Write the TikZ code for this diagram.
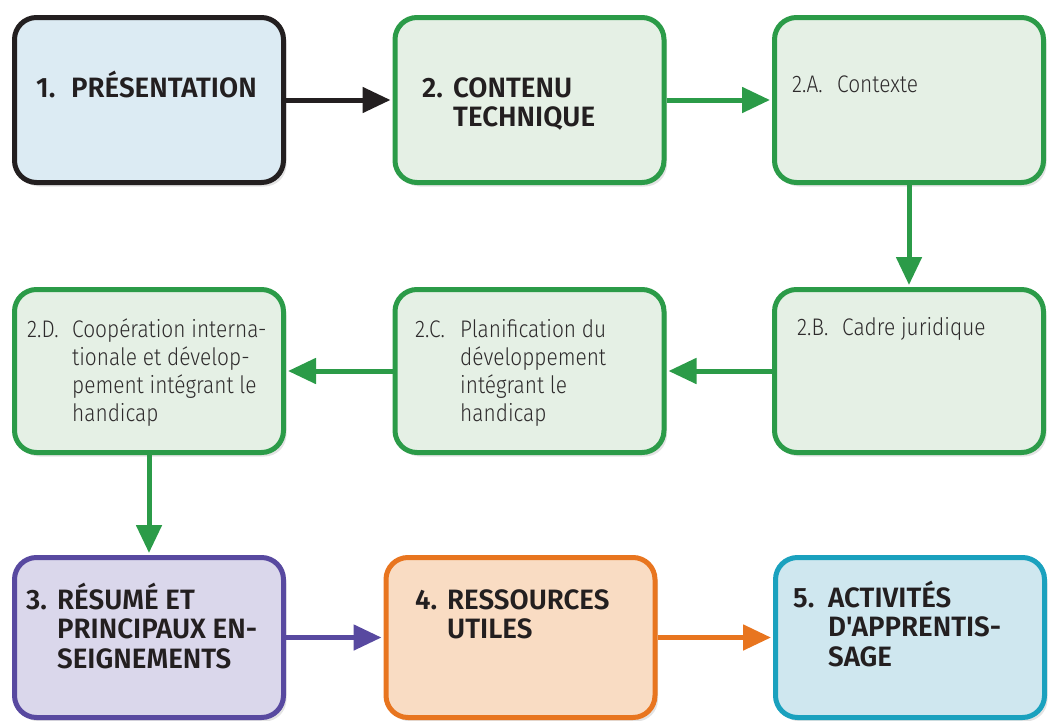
\documentclass[tikz,border=0pt]{standalone}
\usepackage{fontspec}
\usetikzlibrary{arrows.meta,shadows}
\IfFontExistsTF{Fira Sans Light}{\newfontfamily\lightfont{Fira Sans Light}[FakeStretch=0.87]}{\newfontfamily\lightfont{Fira Sans}[FakeStretch=0.87]}
\IfFontExistsTF{Fira Sans SemiBold}{\newfontfamily\headfont{Fira Sans SemiBold}[FakeStretch=0.99]}{\newfontfamily\headfont{Fira Sans Bold}[FakeStretch=0.97]}
\definecolor{cblack}{HTML}{231F20}
\definecolor{fblue}{HTML}{DCEBF3}
\definecolor{cgreen}{HTML}{2B9B48}
\definecolor{fgreen}{HTML}{E5F0E5}
\definecolor{cpurple}{HTML}{5849A0}
\definecolor{fpurple}{HTML}{DAD7EB}
\definecolor{corange}{HTML}{E8751F}
\definecolor{forange}{HTML}{F9DCC3}
\definecolor{cteal}{HTML}{1AA1BE}
\definecolor{fteal}{HTML}{CFE7EF}
\definecolor{txt}{HTML}{231F20}
\definecolor{txtl}{HTML}{2E2B2C}
\begin{document}
\begin{tikzpicture}[x=1pt,y=-1pt,
  box/.style={draw, rounded corners=22pt, line width=5pt, inner sep=0pt,
    minimum width=269pt,
    drop shadow={shadow xshift=3pt, shadow yshift=-4pt, opacity=0.22}},
  row1/.style={minimum height=165pt},
  row2/.style={minimum height=163pt},
  row3/.style={minimum height=160pt},
  bk/.style={box, row1, draw=cblack, fill=fblue},
  gr/.style={box, draw=cgreen, fill=fgreen},
  pu/.style={box, row3, draw=cpurple, fill=fpurple},
  og/.style={box, row3, draw=corange, fill=forange},
  tl/.style={box, row3, draw=cteal, fill=fteal},
  hd/.style={font={\headfont\fontsize{28}{29.5}\selectfont}, text=txt, inner sep=0pt, anchor=base west},
  lt/.style={font={\lightfont\fontsize{24}{28}\selectfont}, text=txtl, inner sep=0pt, anchor=base west},
  conn/.style={line width=5pt, -{Triangle[length=28pt,width=25pt]}, shorten >=2pt},
]
\useasboundingbox (0,0) rectangle (1049,720);
% boxes
\node[bk] (b1) at (149,100) {};
\node[gr,row1] (b2) at (529.5,100) {};
\node[gr,row1] (b2a) at (909,100) {};
\node[gr,row2] (b2d) at (149,371) {};
\node[gr,row2] (b2c) at (529.5,371) {};
\node[gr,row2] (b2b) at (909,371) {};
\node[pu] (b3) at (149,637.5) {};
\node[og] (b4) at (520.5,637.5) {};
\node[tl] (b5) at (910,637.5) {};
% texts
\node[hd] (t1) at (36,97) {\begin{tabular}[t]{@{}p{35pt}@{}l@{}}1.&PRÉSENTATION\end{tabular}};
\node[hd] (t2) at (422,97) {\begin{tabular}[t]{@{}p{31pt}@{}l@{}}2.&CONTENU\\&TECHNIQUE\end{tabular}};
\node[lt] (t2a) at (792,92) {\begin{tabular}[t]{@{}p{45pt}@{}l@{}}2.A.&Contexte\end{tabular}};
\node[lt] (t2b) at (797,335) {\begin{tabular}[t]{@{}p{45pt}@{}l@{}}2.B.&Cadre juridique\end{tabular}};
\node[lt] (t2c) at (415,337) {\begin{tabular}[t]{@{}p{45pt}@{}l@{}}2.C.&Planification du\\&développement\\&intégrant le\\&handicap\end{tabular}};
\node[lt] (t2d) at (27,337) {\begin{tabular}[t]{@{}p{45pt}@{}l@{}}2.D.&Coopération interna-\\&tionale et dévelop-\\&pement intégrant le\\&handicap\end{tabular}};
\node[hd] (t3) at (26,609) {\begin{tabular}[t]{@{}p{31pt}@{}l@{}}3.&RÉSUMÉ ET\\&PRINCIPAUX EN-\\&SEIGNEMENTS\end{tabular}};
\node[hd] (t4) at (415,609) {\begin{tabular}[t]{@{}p{32pt}@{}l@{}}4.&RESSOURCES\\&UTILES\end{tabular}};
\node[hd] (t5) at (793,607) {\begin{tabular}[t]{@{}p{35pt}@{}l@{}}5.&ACTIVITÉS\\&D'APPRENTIS-\\&SAGE\end{tabular}};
% connectors
\draw[conn, cblack] (b1) -- (b2);
\draw[conn, cgreen] (b2) -- (b2a);
\draw[conn, cgreen] (b2a) -- (b2b);
\draw[conn, cgreen] (b2b) -- (b2c);
\draw[conn, cgreen] (b2c) -- (b2d);
\draw[conn, cgreen] (b2d) -- (b3);
\draw[conn, cpurple] (b3) -- (b4);
\draw[conn, corange] (b4) -- (b5);
\end{tikzpicture}
\end{document}
